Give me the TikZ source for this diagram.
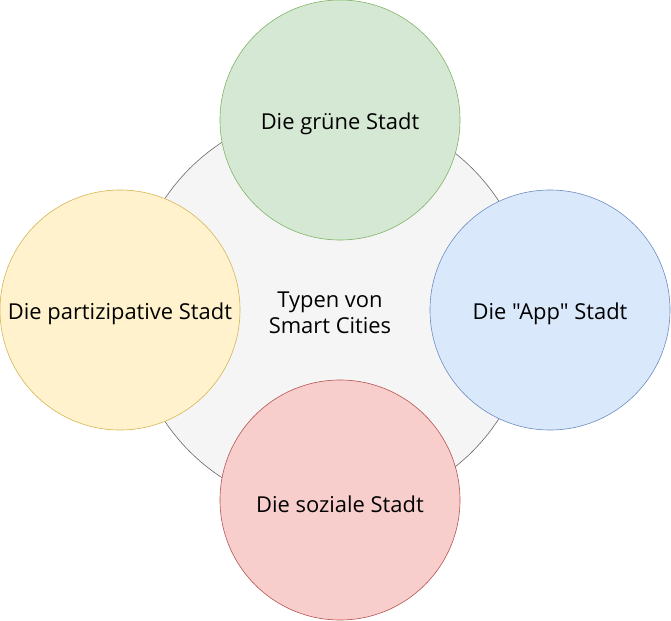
\documentclass[tikz,border=0pt]{standalone}
\usepackage{fontspec}
\setmainfont{Open Sans}[Ligatures=TeXOff]

\definecolor{grayfill}{HTML}{F5F5F5}
\definecolor{graydraw}{HTML}{666666}
\definecolor{greenfill}{HTML}{D5E8D4}
\definecolor{greendraw}{HTML}{82B366}
\definecolor{bluefill}{HTML}{DAE8FC}
\definecolor{bluedraw}{HTML}{6C8EBF}
\definecolor{redfill}{HTML}{F8CECC}
\definecolor{reddraw}{HTML}{B85450}
\definecolor{yellowfill}{HTML}{FFF2CC}
\definecolor{yellowdraw}{HTML}{D6B656}

\begin{document}
\begin{tikzpicture}[x=1bp,y=-1bp,
	typ/.style={circle,minimum size=240bp,inner sep=0pt,line width=0.6bp},
	txt/.style={font=\fontsize{22}{26}\selectfont,align=center}]

\useasboundingbox (0,0) rectangle (671,621);

\def\rm{200}

% centre
\node[typ,minimum size=2*\rm bp,fill=grayfill,draw=graydraw] (center) at (331,310) {};

\node[typ,fill=greenfill,draw=greendraw] (gruen) at (340,120) {};
\node[typ,fill=bluefill,draw=bluedraw] (app) at (550,310) {};
\node[typ,fill=redfill,draw=reddraw] (sozial) at (340,500) {};
\node[typ,fill=yellowfill,draw=yellowdraw] (partizipativ) at (120,310) {};

% labels
\node[txt] (tgruen) at ([yshift=-4bp]gruen.center) {Die grüne Stadt};
\node[txt] (tapp) at ([yshift=-4bp]app.center) {Die "App" Stadt};
\node[txt] (tsozial) at ([yshift=-4bp]sozial.center) {Die soziale Stadt};
\node[txt] (tpartizipativ) at ([yshift=-4bp]partizipativ.center) {Die partizipative Stadt};
\node[txt] (titel) at (330,313) {Typen von\\Smart Cities};

\end{tikzpicture}
\end{document}
